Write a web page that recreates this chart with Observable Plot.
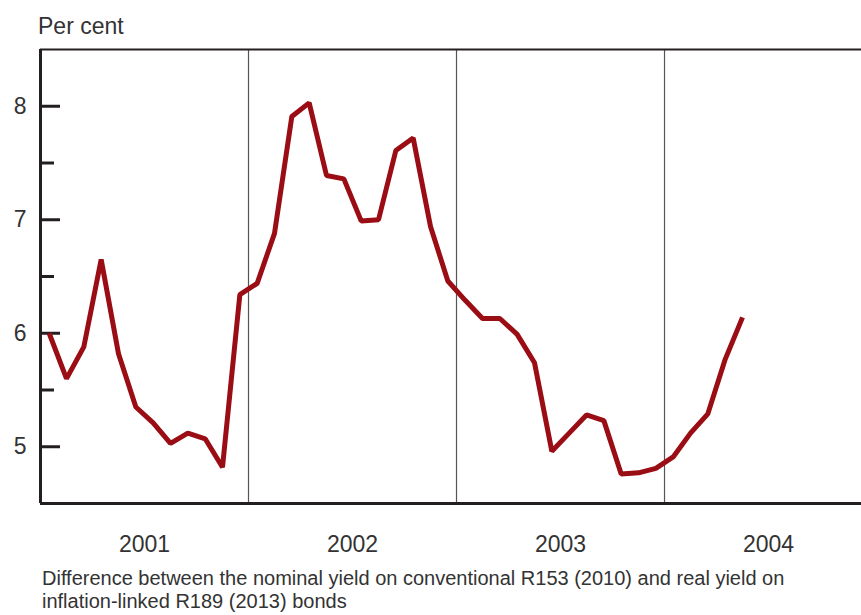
<!DOCTYPE html>
<html>
<head>
<meta charset="utf-8">
<script src="https://cdn.jsdelivr.net/npm/d3@7"></script>
<script src="https://cdn.jsdelivr.net/npm/@observablehq/plot@0.6"></script>
<style>
  html, body { margin: 0; padding: 0; background: #fff; }
  body { position: relative; width: 861px; height: 615px; overflow: hidden; font-family: "Liberation Sans", Arial, sans-serif; color: #333; }
  #unit { position: absolute; left: 38px; top: 15px; font-size: 23px; line-height: 23px; white-space: nowrap; }
  #chart { position: absolute; left: 0; top: 40px; }
  #caption { position: absolute; left: 42px; top: 567px; font-size: 20px; line-height: 22.5px; width: 819px; white-space: nowrap; }
</style>
</head>
<body>
<div id="unit">Per cent</div>
<div id="chart"></div>
<div id="caption">Difference between the nominal yield on conventional R153 (2010) and real yield on<br>inflation-linked R189 (2013) bonds</div>
<script>
// Monthly values, January 2001 to May 2004 (per cent)
const startYear = 2001;
const spread = [
  6.00, 5.60, 5.88, 6.65, 5.82, 5.35, 5.21, 5.03, 5.12, 5.07, 4.82, 6.34,
  6.44, 6.88, 7.91, 8.03, 7.39, 7.36, 6.99, 7.00, 7.61, 7.72, 6.94, 6.46,
  6.29, 6.13, 6.13, 5.99, 5.74, 4.96, 5.12, 5.28, 5.23, 4.76, 4.77, 4.81,
  4.91, 5.12, 5.29, 5.77, 6.14
];
const years = [2001, 2002, 2003, 2004];
const yearDividers = [2002, 2003, 2004];
const majorTicks = [5, 6, 7, 8];
const minorTicks = [5.5, 6.5, 7.5];
const yDomain = [4.5, 8.5];
const xDomain = [2001, 2004.947];

const data = spread.map((v, i) => ({t: startYear + (i + 0.5) / 12, v}));

const ink = "#231f20";
const chart = Plot.plot({
  width: 861,
  height: 525,
  marginTop: 9,
  marginBottom: 62,
  marginLeft: 40,
  marginRight: 0,
  style: {fontFamily: "Liberation Sans, Arial, sans-serif", fontSize: "23px", color: "#333", background: "#fff"},
  x: {type: "linear", domain: xDomain},
  y: {domain: yDomain},
  marks: [
    Plot.ruleX(yearDividers, {stroke: "#555", strokeWidth: 1.2}),
    Plot.ruleY([yDomain[1]], {stroke: ink, strokeWidth: 2}),
    Plot.ruleY([yDomain[0]], {stroke: ink, strokeWidth: 3}),
    Plot.ruleX([xDomain[0]], {stroke: ink, strokeWidth: 3}),
    Plot.axisY({ticks: majorTicks, tickSize: 20, dx: 20, tickPadding: 14, tickFormat: d => String(d), label: null, stroke: ink, strokeWidth: 3, fill: "#333"}),
    Plot.axisY({ticks: minorTicks, tickSize: 14, dx: 14, tickFormat: () => "", label: null, stroke: ink, strokeWidth: 3}),
    Plot.axisX({ticks: years.map(y => y + 0.5), tickSize: 0, tickPadding: 32, tickFormat: d => String(Math.floor(d)), label: null, fill: "#333"}),
    Plot.line(data, {x: "t", y: "v", stroke: "#9b0d14", strokeWidth: 5, strokeLinejoin: "miter", strokeLinecap: "butt"})
  ]
});
document.getElementById("chart").appendChild(chart);
</script>
</body>
</html>
